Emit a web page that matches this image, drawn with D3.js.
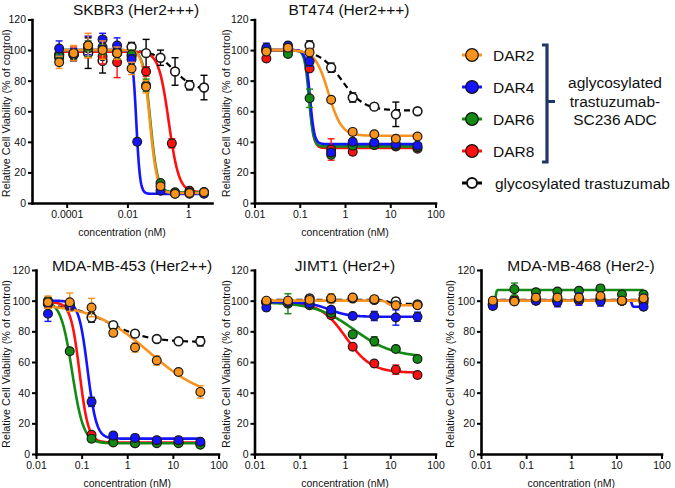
<!DOCTYPE html>
<html><head><meta charset="utf-8">
<script src="https://cdn.jsdelivr.net/npm/d3@7"></script>
<style>
body{margin:0;background:#fff}
svg{display:block}
text{font-family:"Liberation Sans",Arial,Helvetica,sans-serif;fill:#111}
</style>
</head><body>
<svg id="chart" width="675" height="488"></svg>
<script>
// ---------- DATA ----------
const yTicks = [0, 20, 40, 60, 80, 100, 120];
const skbr3XTicks = [0.0001, 0.01, 1];
const stdXTicks = [0.01, 0.1, 1, 10, 100];

// SKBR3 (Her2+++) : 3-fold dilutions from 3.33 nM
const skbr3Conc = [5.65e-5, 1.69e-4, 5.08e-4, 1.52e-3, 4.57e-3, 0.0137, 0.0412, 0.123, 0.370, 1.11, 3.33];
const skbr3ConcDAR4 = [5.65e-5, 1.69e-4, 5.08e-4, 1.52e-3, 4.57e-3, 0.0137, 0.021, 0.123, 0.370, 1.11, 3.33];
const skbr3ConcDAR8 = [5.65e-5, 1.69e-4, 5.08e-4, 1.52e-3, 4.57e-3, 0.0137, 0.0412, 0.29, 1.11, 3.33];
const skbr3Gly  = [97, 97, 98, 93, 98, 102, 98, 95, 86, 77, 75.5];
const skbr3GlyErr = [4, 4, 10, 8, 4, 3, 9, 5, 9, 3, 8];
const skbr3DAR8 = [95, 98, 102, 96, 92, 96, 86, 39, 8, 7];
const skbr3DAR8Err = [5, 4, 7, 5, 10, 4, 3, 3, 1, 1];
const skbr3DAR6 = [96, 97, 101, 102, 99, 97, 77, 13, 7, 7, 7];
const skbr3DAR6Err = [5, 3, 5, 5, 5, 3, 4, 2, 1, 1, 1];
const skbr3DAR4 = [101, 97, 103, 107, 103, 94, 40, 8, 6, 6, 6];
const skbr3DAR4Err = [5, 4, 6, 4, 5, 3, 2, 1, 1, 1, 1];
const skbr3DAR2 = [92, 98, 103, 100, 98, 88, 76, 11, 6, 6.5, 7];
const skbr3DAR2Err = [4, 5, 8, 6, 4, 4, 4, 2, 1, 1, 1];

// common 3-fold dilutions from 40 nM for the other lines
const conc8 = [0.0183, 0.0549, 0.165, 0.494, 1.48, 4.44, 13.3, 40];

// BT474 (Her2+++)
const bt474Gly  = [100, 102, 103, 88.5, 69, 63, 58, 60];
const bt474GlyErr = [2, 2, 3, 3, 3, 2, 8, 2];
const bt474DAR8 = [94.5, 100, 88, 35, 33.5, 38, 37, 35.5];
const bt474DAR8Err = [2, 2, 2, 7, 2, 2, 2, 1];
const bt474DAR6 = [100, 97.5, 68.5, 31.5, 37.5, 38, 37.5, 36.5];
const bt474DAR6Err = [2, 2, 6, 2, 2, 2, 2, 1];
const bt474DAR4 = [101.5, 103, 92.5, 33, 40, 39.5, 38.5, 37.5];
const bt474DAR4Err = [3, 2, 3, 2, 2, 2, 2, 1];
const bt474DAR2 = [99, 101.5, 98.5, 67.5, 46.5, 45, 42, 43.5];
const bt474DAR2Err = [2, 2, 2, 2, 2, 2, 2, 1];

// MDA-MB-453 (Her2++)
const mda453Gly  = [98, 97, 89, 84, 78.5, 75, 73.5, 73.5];
const mda453GlyErr = [3, 3, 3, 2, 2, 1, 1, 3];
const mda453DAR8 = [99, 96, 12.5, 8, 7, 8, 7.5, 7];
const mda453DAR8Err = [3, 2, 2, 1, 1, 1, 1, 1];
const mda453DAR6 = [100, 67, 10, 7.5, 7, 7, 7, 6];
const mda453DAR6Err = [2, 2, 2, 1, 1, 1, 1, 1];
const mda453DAR4 = [91.5, 97, 34, 12, 10.5, 9, 9, 8];
const mda453DAR4Err = [5, 3, 3, 2, 2, 2, 2, 2];
const mda453DAR2 = [99, 99, 95.5, 79, 69.5, 61, 53.5, 40.5];
const mda453DAR2Err = [4, 6, 6, 2, 3, 3, 2, 4];

// JIMT1 (Her2+)
const jimtGly  = [99, 99, 101.5, 101, 101.5, 100.5, 99.5, 97.5];
const jimtGlyErr = [2, 2, 2, 2, 2, 2, 2, 2];
const jimtDAR8 = [99, 99, 98, 90.5, 70, 59, 55, 51.5];
const jimtDAR8Err = [2, 2, 2, 2, 2, 2, 3, 2];
const jimtDAR6 = [99, 98, 97, 92, 78, 73.5, 68.5, 62];
const jimtDAR6Err = [2, 6.5, 2, 2, 2, 3, 2, 2];
const jimtDAR4 = [95.5, 99, 98, 94, 90, 90, 89, 89.5];
const jimtDAR4Err = [2, 2, 2, 2, 2, 3, 5, 3];
const jimtDAR2 = [100, 100, 100.5, 101.5, 102, 101, 97, 97];
const jimtDAR2Err = [2, 2, 2, 3, 2, 2, 2, 2];

// MDA-MB-468 (Her2-)
const mda468Gly  = [97.5, 100, 101, 100, 101, 101, 100, 101];
const mda468GlyErr = [2, 2, 2, 2, 2, 2, 2, 2];
const mda468DAR8 = [99, 101, 100, 100, 100, 100, 100, 99];
const mda468DAR8Err = [2, 2, 2, 2, 2, 2, 2, 2];
const mda468DAR6 = [97, 107.5, 105.5, 106, 106.5, 108, 104, 104];
const mda468DAR6Err = [2, 4, 2, 2, 2, 2, 2, 2];
const mda468DAR4 = [96.5, 100, 100, 99, 101, 99.5, 100, 96];
const mda468DAR4Err = [2, 2, 2, 3, 4, 3, 2, 2];
const mda468DAR2 = [100, 99.5, 102, 102, 102, 103, 100, 101.5];
const mda468DAR2Err = [2, 2, 2, 2, 2, 2, 2, 2];

// fitted 4-parameter logistic curves: [top, bottom, EC50 (nM), Hill slope]
const skbr3Fit = { gly: [100, 73.5, 0.35, 1.3], dar8: [99, 7, 0.23, 2.6], dar6: [100, 7, 0.057, 3.7], dar4: [100, 6, 0.0196, 7], dar2: [100, 6.5, 0.055, 3.7] };
const bt474Fit = { gly: [100, 60.5, 0.85, 1.8], dar8: [100, 36, 0.165, 9], dar6: [100, 37, 0.16, 9], dar4: [100, 38.5, 0.168, 9], dar2: [100, 44, 0.43, 3] };
const mda453Fit = { gly: [98, 73, 0.4, 1], dar8: [99, 7.5, 0.09, 4.5], dar6: [100, 7, 0.062, 3.5], dar4: [100, 10, 0.135, 4.5], dar2: [98, 35, 3, 0.7] };
const jimtFit = { gly: [100.5, 98, 9, 10], dar8: [99, 53, 1.05, 1.55], dar6: [99, 63, 1.6, 1.0], dar4: [99, 89.5, 0.45, 2], dar2: [100, 97, 8.5, 12] };
const mda468Fit = { gly: [97.5, 100.6, 0.021, 40], dar8: [100, 100, 1, 1], dar6: [97, 107, 0.021, 40], dar4: [100, 96, 22, 40], dar2: [100, 100, 1, 1] };

const seriesColors = { gly: "#000000", dar8: "#FF1010", dar6: "#138A13", dar4: "#1414FF", dar2: "#F7931E" };
const drawOrder = ["gly", "dar8", "dar6", "dar4", "dar2"];

const legendLabels = ["DAR2", "DAR4", "DAR6", "DAR8"];
const legendKeys = ["dar2", "dar4", "dar6", "dar8"];
const bracketText = ["aglycosylated", "trastuzumab-", "SC236 ADC"];
const glyLabel = "glycosylated trastuzumab";

// ---------- DRAWING ----------
const svg = d3.select("#chart");
const yLabel = "Relative Cell Viability (% of control)";
const xLabel = "concentration (nM)";

function fourPL(p, c) {
  const [top, bottom, ec50, hill] = p;
  return bottom + (top - bottom) / (1 + Math.pow(c / ec50, hill));
}

function drawPanel(cfg) {
  const x = d3.scaleLog().domain(cfg.xDomain).range(cfg.xRange);
  const y = d3.scaleLinear().domain([0, 120]).range(cfg.yRange);
  const g = svg.append("g");
  const concOf = k => (cfg.concs && cfg.concs[k]) || cfg.conc;

  // axes
  const xAxis = d3.axisBottom(x).tickValues(cfg.xTicks).tickFormat(d => String(d))
      .tickSizeInner(5).tickSizeOuter(0).tickPadding(3);
  const gx = g.append("g").attr("transform", `translate(0,${cfg.yRange[0]})`).call(xAxis);
  const yAxis = d3.axisLeft(y).tickValues(yTicks).tickSizeInner(4).tickSizeOuter(0).tickPadding(2);
  const gy = g.append("g").attr("transform", `translate(${cfg.xRange[0]},0)`).call(yAxis);
  [gx, gy].forEach(a => {
    a.select(".domain").attr("stroke", "#000").attr("stroke-width", 2.6).attr("stroke-linecap", "square");
    a.selectAll(".tick line").attr("stroke", "#000").attr("stroke-width", 2);
    a.selectAll(".tick text").attr("font-size", 10.5).attr("fill", "#111")
      .attr("font-family", '"Liberation Sans",Arial,sans-serif');
  });

  // labels
  g.append("text").attr("x", cfg.titleX).attr("y", cfg.titleY).attr("text-anchor", "middle")
    .attr("font-size", 15.5).text(cfg.title);
  g.append("text").attr("x", (cfg.xRange[0] + cfg.xRange[1]) / 2).attr("y", cfg.yRange[0] + 33)
    .attr("text-anchor", "middle").attr("font-size", 10.5).text(xLabel);
  const ym = (cfg.yRange[0] + cfg.yRange[1]) / 2 + 2;
  g.append("text").attr("transform", `translate(${cfg.yLabelX},${ym}) rotate(-90)`)
    .attr("text-anchor", "middle").attr("font-size", 10.8).text(yLabel);

  // curves
  drawOrder.forEach(k => {
    const cs = concOf(k);
    const c0 = cs[0], c1 = cs[cs.length - 1];
    const pts = d3.range(0, 401).map(i => {
      const c = c0 * Math.pow(c1 / c0, i / 400);
      return { c, v: fourPL(cfg.fits[k], c) };
    });
    g.append("path")
      .attr("d", d3.line().x(d => x(d.c)).y(d => y(d.v))(pts))
      .attr("fill", "none")
      .attr("stroke", seriesColors[k])
      .attr("stroke-width", k === "gly" ? 2.2 : 2.6)
      .attr("stroke-dasharray", k === "gly" ? "6,4" : null);
  });

  // error bars + points
  drawOrder.forEach(k => {
    const cs = concOf(k);
    const vals = cfg.values[k], errs = cfg.errors[k];
    const col = seriesColors[k];
    const sg = g.append("g");
    cs.forEach((c, i) => {
      const cx = x(c), v = vals[i], e = errs[i];
      if (e > 1.2) {
        sg.append("line").attr("x1", cx).attr("x2", cx).attr("y1", y(v - e)).attr("y2", y(v + e))
          .attr("stroke", col).attr("stroke-width", 1.4);
        [v - e, v + e].forEach(ev => sg.append("line").attr("x1", cx - 3.5).attr("x2", cx + 3.5)
          .attr("y1", y(ev)).attr("y2", y(ev)).attr("stroke", col).attr("stroke-width", 1.4));
      }
    });
    sg.selectAll("circle").data(cs).join("circle")
      .attr("cx", d => x(d)).attr("cy", (d, i) => y(vals[i])).attr("r", 4.4)
      .attr("fill", k === "gly" ? "#fff" : col)
      .attr("stroke", "#1a1a1a").attr("stroke-width", k === "gly" ? 1.6 : 1.2);
  });
}

function pack(prefix) {
  return {
    values: { gly: prefix.Gly, dar8: prefix.DAR8, dar6: prefix.DAR6, dar4: prefix.DAR4, dar2: prefix.DAR2 },
    errors: { gly: prefix.GlyErr, dar8: prefix.DAR8Err, dar6: prefix.DAR6Err, dar4: prefix.DAR4Err, dar2: prefix.DAR2Err }
  };
}

const panels = [
  Object.assign({ title: "SKBR3 (Her2+++)", titleX: 136, titleY: 15, xRange: [32, 212], xDomain: [7.2e-6, 6.1],
    xTicks: skbr3XTicks, yRange: [203, 19.5], yLabelX: 10, conc: skbr3Conc,
    concs: { dar4: skbr3ConcDAR4, dar8: skbr3ConcDAR8 }, fits: skbr3Fit },
    pack({ Gly: skbr3Gly, GlyErr: skbr3GlyErr, DAR8: skbr3DAR8, DAR8Err: skbr3DAR8Err, DAR6: skbr3DAR6, DAR6Err: skbr3DAR6Err, DAR4: skbr3DAR4, DAR4Err: skbr3DAR4Err, DAR2: skbr3DAR2, DAR2Err: skbr3DAR2Err })),
  Object.assign({ title: "BT474 (Her2+++)", titleX: 349, titleY: 15, xRange: [254.5, 435.5], xDomain: [0.01, 100],
    xTicks: stdXTicks, yRange: [203, 19.5], yLabelX: 230, conc: conc8, fits: bt474Fit },
    pack({ Gly: bt474Gly, GlyErr: bt474GlyErr, DAR8: bt474DAR8, DAR8Err: bt474DAR8Err, DAR6: bt474DAR6, DAR6Err: bt474DAR6Err, DAR4: bt474DAR4, DAR4Err: bt474DAR4Err, DAR2: bt474DAR2, DAR2Err: bt474DAR2Err })),
  Object.assign({ title: "MDA-MB-453 (Her2++)", titleX: 132, titleY: 271, xRange: [36, 218.5], xDomain: [0.01, 100],
    xTicks: stdXTicks, yRange: [454, 270], yLabelX: 10, conc: conc8, fits: mda453Fit },
    pack({ Gly: mda453Gly, GlyErr: mda453GlyErr, DAR8: mda453DAR8, DAR8Err: mda453DAR8Err, DAR6: mda453DAR6, DAR6Err: mda453DAR6Err, DAR4: mda453DAR4, DAR4Err: mda453DAR4Err, DAR2: mda453DAR2, DAR2Err: mda453DAR2Err })),
  Object.assign({ title: "JIMT1 (Her2+)", titleX: 345, titleY: 271, xRange: [254.5, 435.5], xDomain: [0.01, 100],
    xTicks: stdXTicks, yRange: [454, 270], yLabelX: 230, conc: conc8, fits: jimtFit },
    pack({ Gly: jimtGly, GlyErr: jimtGlyErr, DAR8: jimtDAR8, DAR8Err: jimtDAR8Err, DAR6: jimtDAR6, DAR6Err: jimtDAR6Err, DAR4: jimtDAR4, DAR4Err: jimtDAR4Err, DAR2: jimtDAR2, DAR2Err: jimtDAR2Err })),
  Object.assign({ title: "MDA-MB-468 (Her2-)", titleX: 581, titleY: 271, xRange: [481, 661.5], xDomain: [0.01, 100],
    xTicks: stdXTicks, yRange: [454, 270], yLabelX: 454, conc: conc8, fits: mda468Fit },
    pack({ Gly: mda468Gly, GlyErr: mda468GlyErr, DAR8: mda468DAR8, DAR8Err: mda468DAR8Err, DAR6: mda468DAR6, DAR6Err: mda468DAR6Err, DAR4: mda468DAR4, DAR4Err: mda468DAR4Err, DAR2: mda468DAR2, DAR2Err: mda468DAR2Err }))
];
panels.forEach(drawPanel);

// ---------- LEGEND ----------
const lg = svg.append("g");
const legY = d3.scalePoint().domain(legendKeys.concat(["gly"])).range([55, 183]);
legendKeys.concat(["gly"]).forEach((k, i) => {
  const yy = legY(k);
  lg.append("line").attr("x1", 462).attr("x2", 482).attr("y1", yy).attr("y2", yy)
    .attr("stroke", seriesColors[k]).attr("stroke-width", 3);
  lg.append("circle").attr("cx", 472).attr("cy", yy).attr("r", k === "gly" ? 5 : 6.3)
    .attr("fill", k === "gly" ? "#fff" : seriesColors[k]).attr("stroke", "#111")
    .attr("stroke-width", k === "gly" ? 2 : 1.2);
  lg.append("text").attr("x", k === "gly" ? 495 : 493).attr("y", yy + 5.5).attr("font-size", 15.5)
    .text(k === "gly" ? glyLabel : legendLabels[i]);
});
// bracket
const bx = 547, bTop = 45, bBot = 162, bMid = 101.5;
lg.append("path")
  .attr("d", `M${bx - 5},${bTop} L${bx},${bTop} L${bx},${bBot} L${bx - 5},${bBot} M${bx},${bMid} L${bx + 8},${bMid}`)
  .attr("fill", "none").attr("stroke", "#1D3866").attr("stroke-width", 3.2);
bracketText.forEach((t, i) => {
  lg.append("text").attr("x", 615).attr("y", 88 + i * 18.5).attr("text-anchor", "middle")
    .attr("font-size", 15.5).text(t);
});
</script>
</body></html>
